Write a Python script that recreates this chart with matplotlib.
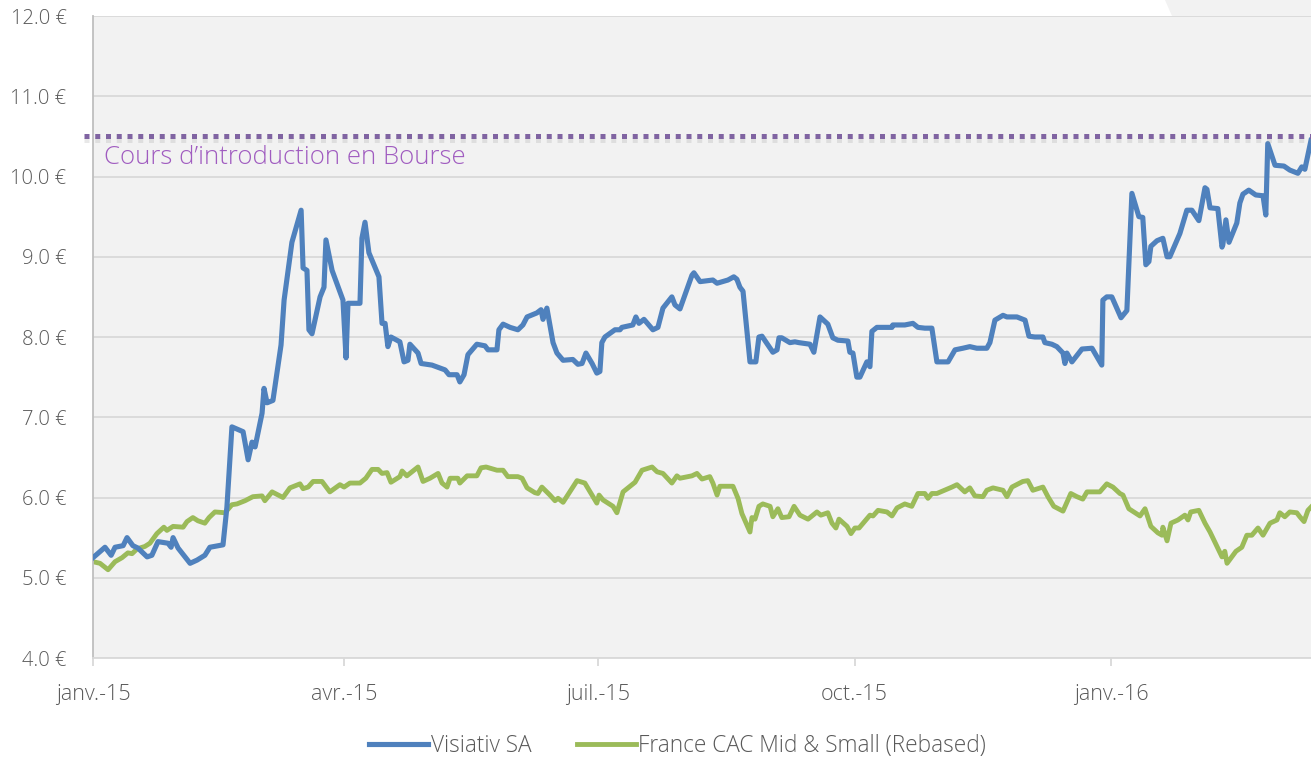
import numpy as np
import matplotlib
matplotlib.use('Agg')
import matplotlib.pyplot as plt
import matplotlib.dates as mdates
import matplotlib.patheffects as pe
from matplotlib.patches import Polygon

plt.rcParams['font.family'] = ['Open Sans', 'DejaVu Sans']

# days since 2015-01-01 and close prices (EUR)
vis_days = [0.0, 4.3, 6.5, 7.9, 10.8, 12.2, 14.3, 16.1, 19.4, 21.1, 23.3, 26.9, 28.0, 28.7,
            30.5, 33.0, 34.8, 37.3, 40.1, 41.9, 46.6, 48.0, 49.8, 53.8, 55.6, 57.0, 58.1,
            60.6, 61.3, 62.4, 64.5, 67.4, 68.5, 71.3, 74.6, 75.3, 76.7, 77.4, 78.5, 81.4,
            82.8, 83.5, 85.7, 89.6, 90.7, 91.4, 95.7, 96.4, 97.5, 98.9, 102.5, 103.6, 104.7,
            105.7, 106.8, 110.0, 111.5, 112.9, 113.6, 116.5, 117.6, 121.5, 126.2, 127.6,
            130.5, 131.5, 133.0, 134.4, 137.6, 140.5, 141.6, 144.8, 145.5, 147.0, 149.5,
            152.3, 154.1, 155.6, 159.1, 160.6, 161.3, 162.7, 164.9, 166.3, 168.5, 172.0,
            173.8, 175.3, 176.7, 178.9, 180.6, 181.7, 182.4, 183.5, 187.1, 188.9, 189.6,
            193.5, 194.6, 195.7, 197.5, 200.7, 202.5, 204.3, 207.5, 208.6, 210.4, 214.7,
            215.4, 217.6, 222.2, 223.7, 227.6, 229.7, 230.8, 231.9, 233.0, 235.5, 237.6,
            238.7, 239.8, 243.7, 245.2, 245.9, 246.9, 249.8, 251.6, 253.0, 257.0, 258.4,
            260.6, 263.4, 265.2, 267.0, 270.6, 271.3, 272.4, 273.8, 274.9, 277.4, 278.5,
            279.2, 281.0, 286.4, 286.7, 291.0, 293.9, 295.7, 298.2, 300.7, 302.5, 306.5,
            309.0, 311.8, 314.3, 316.8, 320.4, 321.5, 323.3, 326.2, 327.6, 331.2, 334.1,
            335.5, 337.6, 340.5, 341.2, 343.7, 345.5, 347.7, 348.4, 349.1, 350.9, 354.5,
            358.1, 361.6, 362.0, 363.4, 365.2, 368.5, 370.6, 372.4, 374.9, 376.3, 377.4,
            378.5, 379.2, 381.4, 383.5, 385.0, 386.0, 389.6, 392.1, 393.9, 396.4, 398.6,
            399.3, 400.4, 403.2, 404.7, 405.0, 406.1, 407.2, 410.0, 411.1, 412.2, 414.3,
            416.8, 419.4, 420.4, 421.1, 423.7, 426.9, 429.0, 431.9, 433.3, 434.4, 436.6]
vis_price = [5.25, 5.38, 5.28, 5.38, 5.40, 5.50, 5.40, 5.37, 5.26, 5.28, 5.45, 5.43, 5.38, 5.50,
             5.37, 5.26, 5.18, 5.22, 5.28, 5.38, 5.41, 5.88, 6.88, 6.82, 6.47, 6.69, 6.63,
             7.05, 7.36, 7.18, 7.21, 7.90, 8.46, 9.18, 9.58, 8.86, 8.83, 8.09, 8.04, 8.50,
             8.62, 9.21, 8.83, 8.46, 7.74, 8.42, 8.42, 9.23, 9.43, 9.05, 8.75, 8.17, 8.17,
             7.88, 8.00, 7.94, 7.69, 7.71, 7.91, 7.80, 7.67, 7.65, 7.59, 7.53, 7.53, 7.44,
             7.53, 7.78, 7.91, 7.89, 7.84, 7.84, 8.09, 8.16, 8.12, 8.09, 8.15, 8.25, 8.30,
             8.34, 8.22, 8.36, 7.93, 7.80, 7.71, 7.72, 7.66, 7.67, 7.80, 7.67, 7.55, 7.57,
             7.93, 8.00, 8.09, 8.09, 8.12, 8.15, 8.25, 8.17, 8.22, 8.09, 8.12, 8.36, 8.50,
             8.40, 8.35, 8.77, 8.80, 8.69, 8.71, 8.67, 8.71, 8.75, 8.72, 8.62, 8.57, 7.69,
             7.69, 8.00, 8.01, 7.81, 7.84, 7.99, 7.99, 7.93, 7.94, 7.93, 7.91, 7.81, 8.25,
             8.16, 7.99, 7.96, 7.95, 7.81, 7.80, 7.50, 7.50, 7.69, 7.63, 8.07, 8.12, 8.12,
             8.15, 8.15, 8.17, 8.12, 8.11, 8.11, 7.69, 7.69, 7.84, 7.86, 7.88, 7.86, 7.86,
             7.93, 8.21, 8.27, 8.25, 8.25, 8.21, 8.01, 8.00, 8.00, 7.93, 7.91, 7.88, 7.80,
             7.67, 7.80, 7.69, 7.85, 7.86, 7.65, 8.46, 8.50, 8.50, 8.24, 8.33, 9.79, 9.50,
             9.49, 8.90, 8.94, 9.13, 9.20, 9.23, 9.00, 9.00, 9.29, 9.58, 9.58, 9.45, 9.86,
             9.84, 9.61, 9.60, 9.12, 9.15, 9.46, 9.18, 9.42, 9.67, 9.78, 9.83, 9.77, 9.76,
             9.52, 10.41, 10.14, 10.13, 10.08, 10.04, 10.12, 10.09, 10.45]

cac_days = [0.0, 2.5, 5.4, 7.9, 10.4, 12.5, 14.0, 15.8, 18.6, 20.4, 22.9, 25.4, 26.5, 28.7,
            32.3, 33.7, 35.8, 37.6, 40.1, 41.6, 43.7, 47.3, 49.8, 51.6, 54.5, 57.3, 60.6,
            61.6, 64.2, 68.1, 70.6, 74.2, 75.3, 77.1, 78.9, 82.1, 84.9, 88.5, 90.0, 92.1,
            95.7, 97.8, 100.0, 102.2, 103.6, 105.4, 106.8, 110.0, 110.8, 112.5, 116.5, 118.3,
            120.8, 123.7, 125.1, 126.9, 128.0, 130.8, 131.5, 134.1, 137.6, 139.1, 140.9,
            144.8, 147.0, 148.7, 152.3, 153.8, 155.6, 158.4, 159.5, 160.9, 163.8, 165.6,
            166.7, 168.5, 173.5, 176.3, 180.6, 181.4, 182.8, 186.4, 187.8, 190.0, 194.3,
            196.8, 200.4, 202.2, 204.3, 207.5, 209.3, 210.4, 214.7, 216.5, 218.3, 221.1,
            222.2, 223.7, 224.7, 229.4, 231.2, 232.6, 235.5, 236.2, 237.3, 238.7, 240.1,
            242.7, 243.7, 245.5, 246.9, 249.5, 251.3, 253.4, 256.3, 259.5, 260.9, 263.4,
            264.9, 266.3, 267.4, 270.3, 271.7, 273.1, 274.6, 278.5, 279.6, 281.4, 284.6,
            286.4, 288.2, 291.0, 293.5, 295.7, 298.2, 299.3, 300.7, 302.5, 307.9, 309.7,
            312.5, 314.3, 316.1, 319.0, 320.4, 322.6, 326.2, 327.6, 329.4, 333.3, 335.1,
            336.9, 340.5, 342.3, 344.4, 347.7, 350.5, 352.7, 354.8, 356.3, 360.9, 363.4,
            365.6, 368.1, 369.2, 371.3, 373.5, 375.3, 377.1, 379.2, 381.7, 383.2, 383.5,
            385.0, 386.4, 388.9, 391.4, 392.5, 393.5, 396.4, 398.6, 400.4, 404.7, 405.7,
            406.5, 409.7, 411.8, 413.6, 415.4, 417.6, 419.4, 421.9, 424.4, 425.4, 427.2,
            429.0, 431.5, 432.6, 434.1, 435.5, 436.6]
cac_price = [5.20, 5.18, 5.10, 5.20, 5.25, 5.31, 5.30, 5.36, 5.39, 5.43, 5.55, 5.63, 5.59, 5.64,
             5.63, 5.70, 5.75, 5.71, 5.68, 5.75, 5.82, 5.81, 5.91, 5.92, 5.96, 6.01, 6.02,
             5.96, 6.07, 6.00, 6.12, 6.17, 6.11, 6.13, 6.20, 6.20, 6.07, 6.16, 6.13, 6.18,
             6.18, 6.24, 6.35, 6.35, 6.30, 6.31, 6.19, 6.26, 6.33, 6.27, 6.38, 6.20,
             6.24, 6.30, 6.18, 6.13, 6.24, 6.24, 6.18, 6.27, 6.27, 6.37, 6.38,
             6.34, 6.34, 6.26, 6.26, 6.24, 6.12, 6.06, 6.05, 6.13, 6.03, 5.96,
             5.99, 5.94, 6.21, 6.18, 5.93, 6.03, 5.97, 5.89, 5.81, 6.07, 6.19,
             6.34, 6.38, 6.32, 6.30, 6.18, 6.27, 6.24, 6.27, 6.30, 6.23, 6.26,
             6.18, 6.03, 6.14, 6.14, 5.99, 5.80, 5.57, 5.75, 5.73, 5.89, 5.92,
             5.89, 5.76, 5.86, 5.75, 5.76, 5.89, 5.78, 5.73, 5.82, 5.78, 5.81,
             5.68, 5.62, 5.73, 5.64, 5.55, 5.62, 5.62, 5.78, 5.77, 5.84, 5.82,
             5.77, 5.87, 5.92, 5.89, 6.05, 6.05, 5.99, 6.05, 6.05, 6.13, 6.16,
             6.07, 6.12, 6.02, 6.01, 6.09, 6.12, 6.09, 6.01, 6.13, 6.20, 6.21,
             6.09, 6.13, 6.01, 5.89, 5.83, 6.05, 6.01, 5.98, 6.07, 6.07, 6.17,
             6.13, 6.05, 6.03, 5.86, 5.81, 5.77, 5.86, 5.64, 5.56, 5.53, 5.63,
             5.46, 5.68, 5.72, 5.78, 5.72, 5.82, 5.84, 5.68, 5.57, 5.26, 5.33,
             5.18, 5.33, 5.38, 5.53, 5.53, 5.62, 5.53, 5.68, 5.72, 5.81, 5.76,
             5.82, 5.81, 5.76, 5.70, 5.84, 5.88]

ipo_price = 10.5
tick_dates = ['2015-01-01', '2015-04-01', '2015-07-01', '2015-10-01', '2016-01-01']
tick_labels = ['janv.-15', 'avr.-15', 'juil.-15', 'oct.-15', 'janv.-16']
y_ticks = [4, 5, 6, 7, 8, 9, 10, 11, 12]

W, H = 1311, 762
fig = plt.figure(figsize=(W / 100, H / 100), dpi=100)
fig.patches.append(Polygon([(1165 / W, 1), (1, 1), (1, 746 / H), (1172 / W, 746 / H)],
                           closed=True, transform=fig.transFigure, facecolor='#f2f2f2',
                           edgecolor='none', zorder=0))
ax = fig.add_axes([93 / W, 104 / H, 1 - 93 / W, 642 / H])
ax.set_facecolor('#f2f2f2')

t0 = mdates.date2num(np.datetime64('2015-01-01'))
ax.plot(t0 + np.array(vis_days), vis_price, color='#4f81bd', lw=3.7,
        solid_joinstyle='round', label='Visiativ SA', zorder=3)
ax.plot(t0 + np.array(cac_days), cac_price, color='#9bbb59', lw=3.5,
        solid_joinstyle='round', label='France CAC Mid & Small (Rebased)', zorder=2)

ax.axhline(ipo_price, xmin=-0.007, xmax=1, color='#8064a2', lw=3.6,
           linestyle=(0, (1, 1.15)), dash_capstyle='butt', clip_on=False, zorder=4,
           path_effects=[pe.SimpleLineShadow(offset=(0, -2.5), shadow_color='#909090', alpha=0.2),
                         pe.Normal()])
ax.text(t0 + 4, 10.24, 'Cours d\u2019introduction en Bourse', color='#a05cc0',
        fontsize=18.5, va='center', ha='left', fontweight='light')

ax.set_xlim(t0, t0 + 436.6)
ax.set_ylim(4, 12)
ax.set_yticks(y_ticks)
ax.set_yticklabels([f'{v:.1f} \u20ac' for v in y_ticks])
ax.set_xticks([mdates.date2num(np.datetime64(d)) for d in tick_dates])
ax.set_xticklabels(tick_labels)

ax.yaxis.grid(True, color='#d9d9d9', lw=1.3)
ax.set_axisbelow(True)
for s in ['top', 'right']:
    ax.spines[s].set_visible(False)
ax.spines['left'].set_color('#bfbfbf')
ax.spines['left'].set_linewidth(1.3)
ax.spines['bottom'].set_color('#d9d9d9')
ax.spines['bottom'].set_linewidth(1.3)
ax.tick_params(axis='y', length=0, pad=19, labelsize=14.5, labelcolor='#595959')
ax.tick_params(axis='x', length=6, width=1.3, color='#d9d9d9', pad=13,
               labelsize=15.5, labelcolor='#595959')
for lab in ax.get_xticklabels() + ax.get_yticklabels():
    lab.set_fontweight('light')

leg = fig.legend(loc='lower center', bbox_to_anchor=(0.517, -0.022), ncol=2, frameon=False,
                 handlelength=2.6, handletextpad=0.12, columnspacing=2.0,
                 prop={'size': 16.3, 'weight': 'light'})
for t in leg.get_texts():
    t.set_color('#595959')

fig.savefig('out.png', dpi=100)
